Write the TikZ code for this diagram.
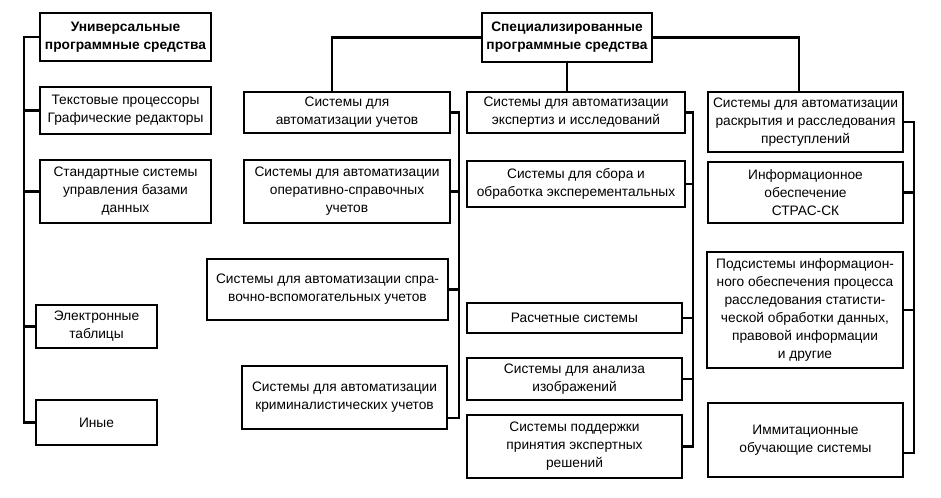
\documentclass[tikz,border=0pt]{standalone}
\usepackage{fontspec}
\setmainfont{Liberation Sans}
\begin{document}
\begin{tikzpicture}[x=0.75pt, y=-0.75pt,
				    block/.style={draw, line width=1.5pt, fill=none, inner sep=0pt,
				    			  align=center, text=black, font=\fontsize{10.3}{13.5}\selectfont},
				    head/.style={block, font=\fontsize{10.3}{13.5}\selectfont\bfseries},
				    link/.style={line width=1.6pt}]
	\useasboundingbox (0,0) rectangle (941,497);
	\node[head, minimum width=128.25pt, minimum height=36pt] (uni) at (125.5, 37) {Универсальные\\программные средства};
	\node[block, minimum width=128.25pt, minimum height=35.25pt] (txt) at (125.5, 110.5) {Текстовые процессоры\\Графические редакторы};
	\node[block, minimum width=128.25pt, minimum height=47.25pt] (dbms) at (125.5, 191.5) {Стандартные системы\\управления базами\\данных};
	\node[block, minimum width=90.75pt, minimum height=32.25pt] (tab) at (96.5, 326.5) {Электронные\\таблицы};
	\node[block, minimum width=90.75pt, minimum height=33.75pt] (other) at (96.5, 422.5) {Иные};
	\node[head, minimum width=127.5pt, minimum height=36.75pt] (spec) at (567, 37.5) {Специализированные\\программные средства};
	\node[block, minimum width=154.5pt, minimum height=30.75pt] (acc) at (347, 112.5) {Системы для\\автоматизации учетов};
	\node[block, minimum width=154.5pt, minimum height=47.25pt] (oper) at (347, 191.5) {Системы для автоматизации\\оперативно-справочных\\учетов};
	\node[block, minimum width=180.75pt, minimum height=45.75pt] (sprav) at (327.5, 289.5) {Системы для автоматизации спра-\\вочно-вспомогательных учетов};
	\node[block, minimum width=153.75pt, minimum height=47.25pt] (crim) at (344.5, 397.5) {Системы для автоматизации\\криминалистических учетов};
	\node[block, minimum width=163.5pt, minimum height=30.75pt] (exp) at (576, 112.5) {Системы для автоматизации\\экспертиз и исследований};
	\node[block, minimum width=163.5pt, minimum height=34.5pt] (coll) at (576, 184) {Системы для сбора и\\обработка эксперементальных};
	\node[block, minimum width=161.25pt, minimum height=22.5pt] (calc) at (574.5, 318) {Расчетные системы};
	\node[block, minimum width=161.25pt, minimum height=31.5pt] (img) at (574.5, 379) {Системы для анализа\\изображений};
	\node[block, minimum width=161.25pt, minimum height=47.25pt] (dss) at (574.5, 446.5) {Системы поддержки\\принятия экспертных\\решений};
	\node[block, minimum width=146.25pt, minimum height=45pt] (crime) at (805.5, 122) {Системы для автоматизации\\раскрытия и расследования\\преступлений};
	\node[block, minimum width=146.25pt, minimum height=45.75pt] (stras) at (805.5, 192.5) {Информационное\\обеспечение\\СТРАС-СК};
	\node[block, minimum width=147pt, minimum height=87pt] (sub) at (805, 310) {Подсистемы информацион-\\ного обеспечения процесса\\расследования статисти-\\ческой обработки данных,\\правовой информации\\и другие};
	\node[block, minimum width=146.25pt, minimum height=55.5pt] (imit) at (805.5, 440) {Иммитационные\\обучающие системы};
	\draw[link] (uni.west) -- ++(-15,0) coordinate (s1) |- (other.west);
	\draw[link] (txt.west) -- (txt.west -| s1);
	\draw[link] (dbms.west) -- (dbms.west -| s1);
	\draw[link] (tab.west) -- (tab.west -| s1);
	\draw[link] (spec.west) -| ([xshift=-11pt]acc.north);
	\draw[link] (spec.south) -- (spec.south |- exp.north);
	\draw[link] (spec.east) -| ([xshift=-5pt]crime.north);
	\draw[link] (acc.east) -- ++(8,0) coordinate (s2) |- ([yshift=9pt]crim.south east);
	\draw[link] (oper.east) -- (oper.east -| s2);
	\draw[link] (sprav.east) -- (sprav.east -| s2);
	\draw[link] (exp.east) -- ++(7,0) coordinate (s3) |- (dss.east);
	\draw[link] (coll.east) -- (coll.east -| s3);
	\draw[link] (calc.east) -- (calc.east -| s3);
	\draw[link] (img.east) -- (img.east -| s3);
	\draw[link] (crime.east) -- ++(10,0) coordinate (s4) |- ([yshift=18.75pt]imit.south east);
	\draw[link] (stras.east) -- (stras.east -| s4);
	\draw[link] (sub.east) -- (sub.east -| s4);
\end{tikzpicture}
\end{document}
